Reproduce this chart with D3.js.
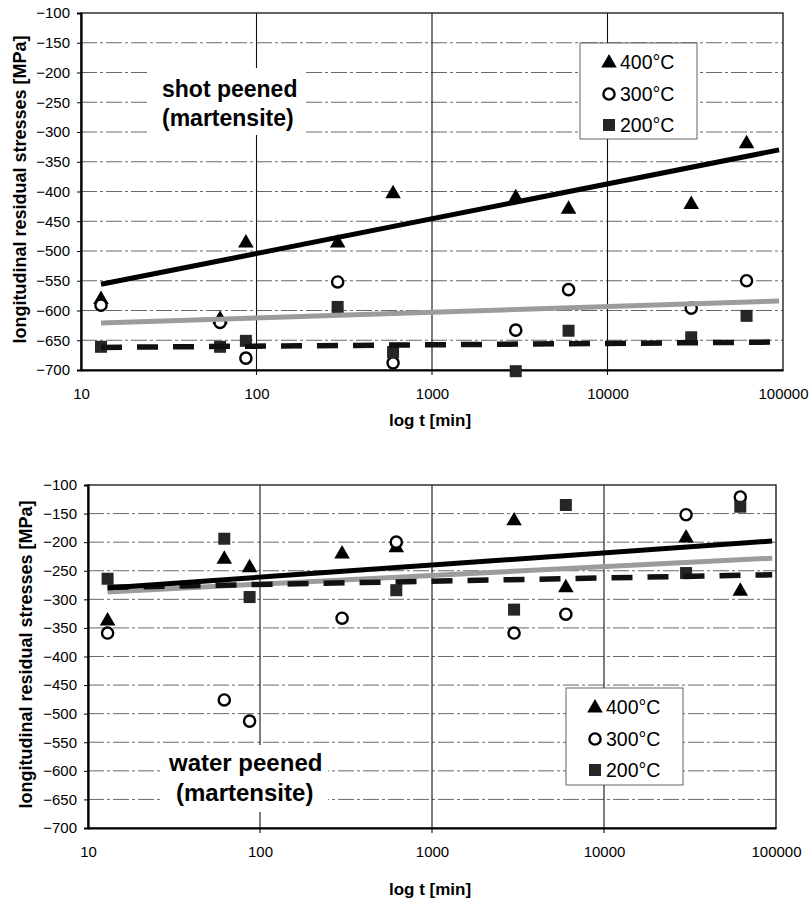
<!DOCTYPE html>
<html>
<head>
<meta charset="utf-8">
<script src="https://cdn.jsdelivr.net/npm/d3@7"></script>
<style>
  html, body { margin: 0; padding: 0; background: #fff; }
  svg { display: block; font-family: "Liberation Sans", Arial, sans-serif; }
</style>
</head>
<body>
<svg id="chart" width="812" height="900"></svg>
<script>
// ---------- DATA ----------
const xTicks = [10, 100, 1000, 10000, 100000];
const yTicks = [-100, -150, -200, -250, -300, -350, -400, -450, -500, -550, -600, -650, -700];
const seriesNames = ["400°C", "300°C", "200°C"];

// shot peened (martensite)
const sp400_t = [13, 62, 87, 290, 600, 3000, 6000, 30000, 62000];
const sp400_v = [-580, -613, -485, -485, -402, -409, -428, -420, -318];
const sp300_t = [13, 62, 87, 290, 600, 3000, 6000, 30000, 62000];
const sp300_v = [-591, -620, -680, -552, -688, -633, -565, -596, -550];
const sp200_t = [13, 62, 87, 290, 600, 3000, 6000, 30000, 62000];
const sp200_v = [-661, -661, -651, -594, -670, -702, -634, -645, -609];
const spTrend_t = [13, 95000];
const spTrend400 = [-556, -330];
const spTrend300 = [-621, -584];
const spTrend200 = [-662, -653];

// water peened (martensite)
const wp400_t = [13, 62, 87, 300, 620, 3000, 6000, 30000, 62000];
const wp400_v = [-336, -228, -243, -219, -208, -161, -278, -191, -284];
const wp300_t = [13, 62, 87, 300, 620, 3000, 6000, 30000, 62000];
const wp300_v = [-359, -476, -513, -333, -200, -359, -326, -152, -121];
const wp200_t = [13, 62, 87, 620, 3000, 6000, 30000, 62000];
const wp200_v = [-264, -194, -296, -284, -318, -135, -254, -138];
const wpTrend_t = [13, 95000];
const wpTrend400 = [-280, -198];
const wpTrend300 = [-287, -228];
const wpTrend200 = [-279, -257];

// ---------- DRAW ----------
const svg = d3.select("#chart");

function drawPanel(cfg) {
  const x = d3.scaleLog().domain([10, 100000]).range([cfg.left, cfg.right]);
  const y = d3.scaleLinear().domain([-700, -100]).range([cfg.bottom, cfg.top]);
  const g = svg.append("g");

  // horizontal gridlines
  g.append("g").selectAll("line").data(yTicks.filter(v => v !== -100 && v !== -700)).join("line")
    .attr("x1", cfg.left).attr("x2", cfg.right)
    .attr("y1", d => y(d)).attr("y2", d => y(d))
    .attr("stroke", "#555").attr("stroke-width", 0.9)
    .attr("stroke-dasharray", "16,3,3,3");

  // vertical gridlines
  g.append("g").selectAll("line").data(xTicks.filter(v => v !== 10 && v !== 100000)).join("line")
    .attr("x1", d => x(d)).attr("x2", d => x(d))
    .attr("y1", cfg.top).attr("y2", cfg.bottom + 5)
    .attr("stroke", "#111").attr("stroke-width", 1.1);

  // white background behind annotation text
  g.append("rect").attr("x", cfg.noteBox[0]).attr("y", cfg.noteBox[1])
    .attr("width", cfg.noteBox[2]).attr("height", cfg.noteBox[3]).attr("fill", "#fff");

  // plot border
  g.append("rect").attr("x", cfg.left).attr("y", cfg.top)
    .attr("width", cfg.right - cfg.left).attr("height", cfg.bottom - cfg.top)
    .attr("fill", "none").attr("stroke", "#222").attr("stroke-width", 1.4);

  // axes
  const yAxis = d3.axisLeft(y).tickValues(yTicks).tickSize(4).tickPadding(7).tickFormat(d3.format("d"));
  const ya = g.append("g").attr("transform", `translate(${cfg.left},0)`).call(yAxis);
  ya.select(".domain").attr("stroke", "#000").attr("stroke-width", 2.2);
  ya.selectAll(".tick line").attr("stroke", "#000");
  ya.selectAll("text").attr("font-size", 15).attr("fill", "#000")
    .attr("font-family", "Liberation Sans, Arial, sans-serif");

  const xAxis = d3.axisBottom(x).tickValues(xTicks).tickSize(0).tickPadding(18).tickFormat(d3.format("d"));
  const xa = g.append("g").attr("transform", `translate(0,${cfg.bottom})`).call(xAxis);
  xa.select(".domain").attr("stroke", "#000").attr("stroke-width", 2);
  xa.selectAll("text").attr("font-size", 15).attr("fill", "#000")
    .attr("font-family", "Liberation Sans, Arial, sans-serif");

  // axis titles
  g.append("text").attr("x", (cfg.left + cfg.right) / 2 - 2).attr("y", cfg.xTitleY)
    .attr("text-anchor", "middle").attr("font-size", 17).attr("font-weight", "bold")
    .text("log t [min]");
  g.append("text")
    .attr("transform", `translate(${cfg.yTitleX},${(cfg.top + cfg.bottom) / 2 - 2}) rotate(-90)`)
    .attr("text-anchor", "middle").attr("dominant-baseline", "central")
    .attr("font-size", 18).attr("font-weight", "bold")
    .text("longitudinal residual stresses [MPa]");

  // annotation
  g.append("text").attr("x", cfg.noteX).attr("y", cfg.noteY1)
    .attr("font-size", cfg.noteSize).attr("font-weight", "bold").text(cfg.note1);
  g.append("text").attr("x", cfg.noteX2).attr("y", cfg.noteY2)
    .attr("font-size", cfg.noteSize).attr("font-weight", "bold").text("(martensite)");

  // markers
  const tri = d3.symbol().type(d3.symbolTriangle).size(105);
  const s400 = cfg.t400.map((t, i) => [t, cfg.v400[i]]);
  const s300 = cfg.t300.map((t, i) => [t, cfg.v300[i]]);
  const s200 = cfg.t200.map((t, i) => [t, cfg.v200[i]]);

  g.append("g").selectAll("path").data(s400).join("path")
    .attr("d", tri).attr("transform", d => `translate(${x(d[0])},${y(d[1]) + 1})`)
    .attr("fill", "#000");
  g.append("g").selectAll("circle").data(s300).join("circle")
    .attr("cx", d => x(d[0])).attr("cy", d => y(d[1])).attr("r", 5.6)
    .attr("fill", "#fff").attr("stroke", "#000").attr("stroke-width", 2.4);
  g.append("g").selectAll("rect").data(s200).join("rect")
    .attr("x", d => x(d[0]) - 6).attr("y", d => y(d[1]) - 6)
    .attr("width", 12).attr("height", 12).attr("fill", "#262626");

  // trend lines
  const line = d3.line().x(d => x(d[0])).y(d => y(d[1]));
  const tr = (vals) => cfg.trendT.map((t, i) => [t, vals[i]]);
  g.append("path").attr("d", line(tr(cfg.tr300))).attr("fill", "none")
    .attr("stroke", "#9c9c9c").attr("stroke-width", 5);
  g.append("path").attr("d", line(tr(cfg.tr200))).attr("fill", "none")
    .attr("stroke", "#111").attr("stroke-width", 5.5).attr("stroke-dasharray", "21,15");
  g.append("path").attr("d", line(tr(cfg.tr400))).attr("fill", "none")
    .attr("stroke", "#000").attr("stroke-width", 5);

  // legend
  const L = cfg.legend;
  g.append("rect").attr("x", L[0]).attr("y", L[1]).attr("width", L[2]).attr("height", L[3])
    .attr("fill", "#fff").attr("stroke", "#555").attr("stroke-width", 0.9);
  const rowY = [L[1] + 19, L[1] + 51, L[1] + 82];
  const mx = L[0] + 29;
  g.append("path").attr("d", tri).attr("transform", `translate(${mx},${rowY[0] + 1})`).attr("fill", "#000");
  g.append("circle").attr("cx", mx).attr("cy", rowY[1]).attr("r", 5.6)
    .attr("fill", "#fff").attr("stroke", "#000").attr("stroke-width", 2.4);
  g.append("rect").attr("x", mx - 6).attr("y", rowY[2] - 6).attr("width", 12).attr("height", 12).attr("fill", "#262626");
  g.append("g").selectAll("text").data(seriesNames).join("text")
    .attr("x", mx + 11).attr("y", (d, i) => rowY[i])
    .attr("dominant-baseline", "central").attr("font-size", 19.5).text(d => d);
}

drawPanel({
  left: 81, right: 783, top: 13, bottom: 370,
  xTitleY: 426, yTitleX: 20,
  noteBox: [150, 68, 153, 67], noteX: 162, noteX2: 162, noteY1: 97, noteY2: 126, noteSize: 23,
  note1: "shot peened",
  t400: sp400_t, v400: sp400_v, t300: sp300_t, v300: sp300_v, t200: sp200_t, v200: sp200_v,
  trendT: spTrend_t, tr400: spTrend400, tr300: spTrend300, tr200: spTrend200,
  legend: [580, 43, 117, 96]
});

drawPanel({
  left: 88, right: 776, top: 485, bottom: 828,
  xTitleY: 895, yTitleX: 26,
  noteBox: [160, 745, 168, 67], noteX: 169, noteX2: 176, noteY1: 771, noteY2: 801, noteSize: 24,
  note1: "water peened",
  t400: wp400_t, v400: wp400_v, t300: wp300_t, v300: wp300_v, t200: wp200_t, v200: wp200_v,
  trendT: wpTrend_t, tr400: wpTrend400, tr300: wpTrend300, tr200: wpTrend200,
  legend: [566, 688, 117, 97]
});
</script>
</body>
</html>
